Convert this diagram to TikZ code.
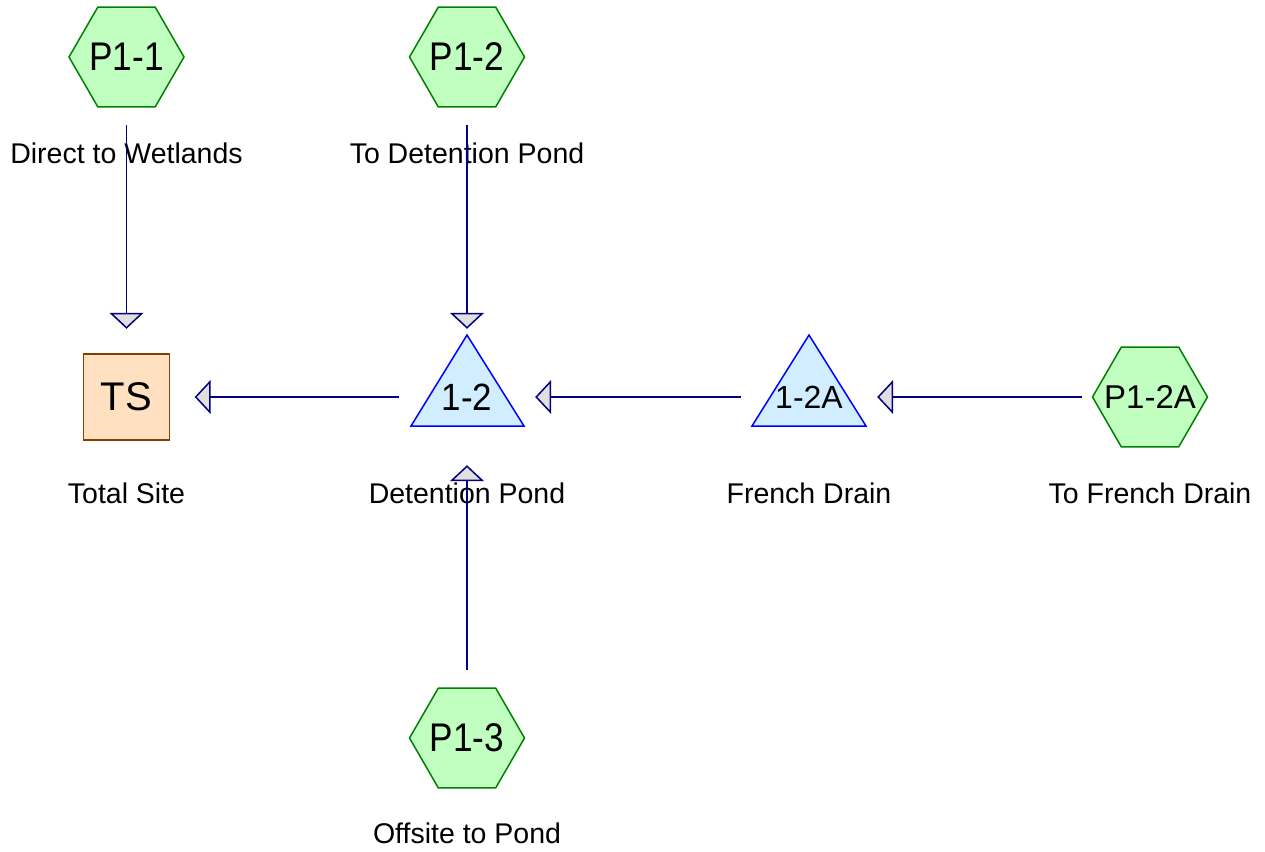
\documentclass[tikz,border=0pt]{standalone}
\usepackage{fontspec}
\usepackage{graphicx}
\setmainfont{Liberation Sans}
\usetikzlibrary{shapes.geometric,arrows.meta,calc}
\definecolor{hexfill}{HTML}{C0FFC0}
\definecolor{hexline}{HTML}{008000}
\definecolor{trifill}{HTML}{D0EEFF}
\definecolor{triline}{HTML}{0000FF}
\definecolor{tsfill}{HTML}{FFE0C0}
\definecolor{tsline}{HTML}{804000}
\definecolor{navyc}{HTML}{000080}
\definecolor{tipgray}{HTML}{E0E0E0}
\newcommand\narrowtxt[2]{\scalebox{#1}[1]{#2}}
\begin{document}
\begin{tikzpicture}[x=1pt,y=-1pt,
  hexa/.style={regular polygon, regular polygon sides=6, minimum size=115pt, inner sep=0pt, draw=hexline, fill=hexfill, line width=1.5pt},
  tri/.style={draw=triline, fill=trifill, line width=1.5pt, line join=miter},
  tsbox/.style={minimum size=86pt, inner sep=0pt, draw=tsline, fill=tsfill, line width=1.5pt},
  box/.style={minimum size=136pt, inner sep=0pt, font=\fontsize{40}{44}\selectfont},
  lbl/.style={inner sep=0pt, font=\fontsize{28.5}{32}\selectfont},
  flow/.style={draw=navyc, line width=1.5pt, -{Triangle[width=34pt,length=16pt,fill=tipgray]}}
]
\useasboundingbox (0,0) rectangle (1265,851);
% shapes
\node[hexa] (p11s) at (126.5,57) {};
\node[hexa] (p12s) at (467,57) {};
\node[hexa] (p12as) at (1150,397) {};
\node[hexa] (p13s) at (467,738) {};
\node[tsbox] (tss) at (126.5,397) {};
\draw[tri] (467,335) -- (524,426) -- (411,426) -- cycle;
\draw[tri] (809,335) -- (866,426) -- (752,426) -- cycle;
% named nodes with texts
\node[box] (p11) at (126.5,57) {\narrowtxt{0.88}{P1-1}};
\node[box] (p12) at (467,57) {\narrowtxt{0.88}{P1-2}};
\node[box,font=\fontsize{33}{38}\selectfont] (p12a) at (1150,397) {P1-2A};
\node[box] (p13) at (467,738) {\narrowtxt{0.88}{P1-3}};
\node[box] (ts) at (126.5,397) {TS};
\node[box,font=\fontsize{38}{42}\selectfont] (n12) at (467,397) {\narrowtxt{0.92}{1-2}};
\node[box,font=\fontsize{32}{36}\selectfont] (n12a) at (809,397) {1-2A};
% labels
\node[lbl] (l11) at (126.5,153) {Direct to Wetlands};
\node[lbl] (l12) at (467,153) {To Detention Pond};
\node[lbl] (lts) at (126.5,493) {Total Site};
\node[lbl] (ln12) at (467,493) {Detention Pond};
\node[lbl] (ln12a) at (809,493) {French Drain};
\node[lbl] (l12a) at (1150,493) {To French Drain};
\node[lbl] (l13) at (467,833) {Offsite to Pond};
% connectors
\draw[flow] (p11.south) -- (ts.north);
\draw[flow] (p12.south) -- (n12.north);
\draw[flow] (p13.north) -- (n12.south);
\draw[flow] (n12.west) -- (ts.east);
\draw[flow] (n12a.west) -- (n12.east);
\draw[flow] (p12a.west) -- (n12a.east);
\end{tikzpicture}
\end{document}
